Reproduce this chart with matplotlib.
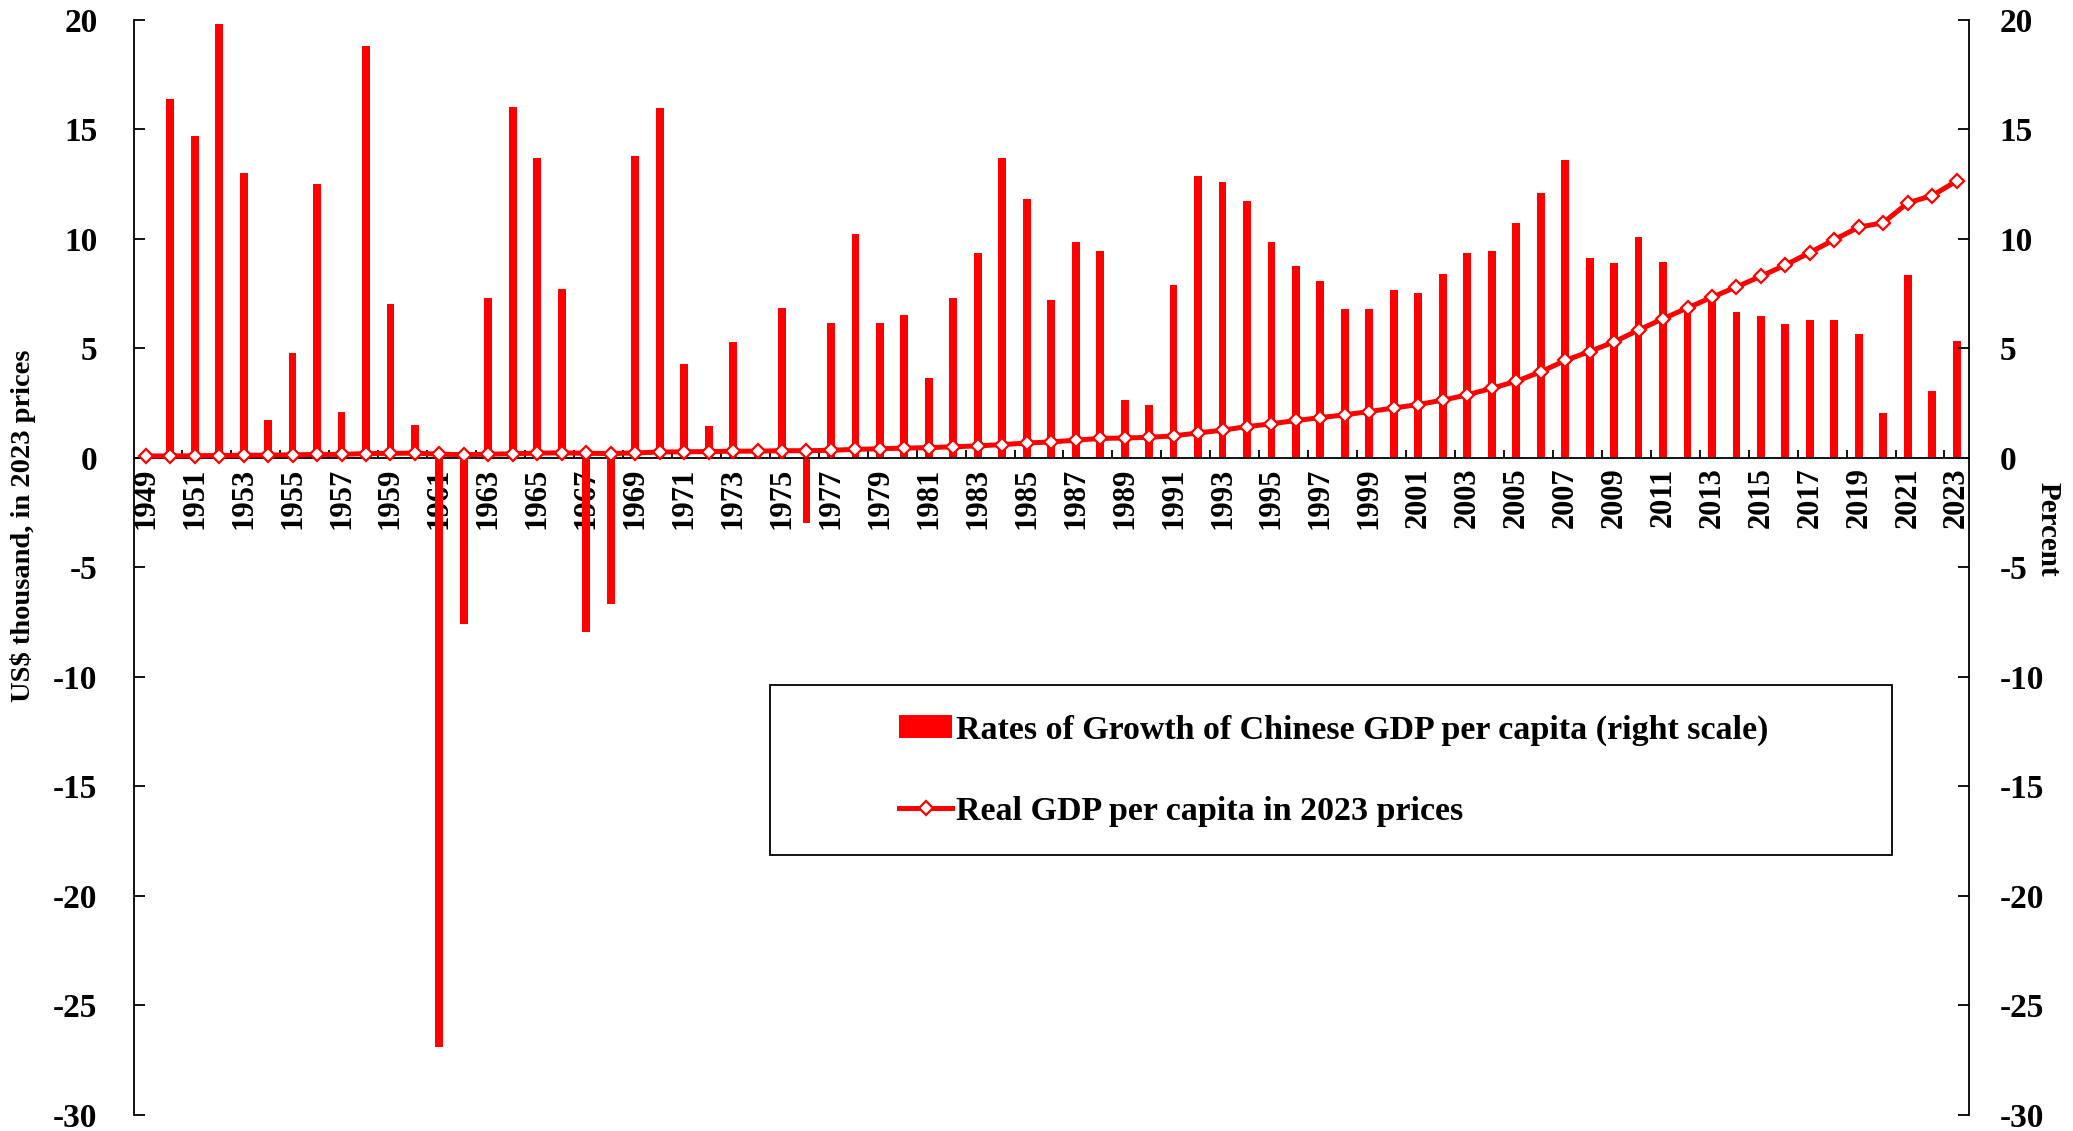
import matplotlib.pyplot as plt
import numpy as np
from matplotlib.patches import Rectangle

plt.rcParams["font.family"] = ["Liberation Serif", "DejaVu Serif"]
plt.rcParams["font.weight"] = "bold"

years = list(range(1949, 2024))

# growth of GDP per capita, percent (right scale); 1949 has no bar
growth = [
    np.nan, 16.4, 14.7, 19.8, 13.0, 1.73, 4.8, 12.5, 2.1, 18.8,
    7.0, 1.5, -26.9, -7.6, 7.3, 16.0, 13.7, 7.7, -7.95, -6.7,
    13.8, 15.95, 4.28, 1.45, 5.3, 0.3, 6.86, -2.96, 6.16, 10.2,
    6.16, 6.5, 3.66, 7.3, 9.34, 13.7, 11.8, 7.2, 9.86, 9.45,
    2.63, 2.4, 7.89, 12.88, 12.6, 11.72, 9.83, 8.75, 8.08, 6.81,
    6.81, 7.67, 7.54, 8.39, 9.34, 9.45, 10.74, 12.11, 13.6, 9.14,
    8.87, 10.07, 8.93, 6.9, 7.2, 6.66, 6.47, 6.11, 6.29, 6.29,
    5.63, 2.04, 8.36, 3.04, 5.34,
]

# real GDP per capita, US$ thousand in 2023 prices (left scale)
gdp_pc = [
    0.08, 0.08, 0.09, 0.10, 0.11, 0.12, 0.13, 0.15, 0.15, 0.19,
    0.20, 0.21, 0.16, 0.14, 0.16, 0.18, 0.21, 0.22, 0.20, 0.19,
    0.22, 0.26, 0.27, 0.28, 0.30, 0.30, 0.32, 0.32, 0.34, 0.38,
    0.41, 0.44, 0.46, 0.50, 0.54, 0.60, 0.67, 0.72, 0.80, 0.88,
    0.90, 0.93, 1.00, 1.13, 1.26, 1.42, 1.55, 1.70, 1.83, 1.96,
    2.11, 2.27, 2.43, 2.63, 2.87, 3.17, 3.49, 3.92, 4.44, 4.85,
    5.29, 5.83, 6.35, 6.84, 7.33, 7.80, 8.29, 8.80, 9.37, 9.96,
    10.53, 10.73, 11.64, 11.97, 12.64,
]

y_ticks = [20, 15, 10, 5, 0, -5, -10, -15, -20, -25, -30]

RED = "#FF0000"
x = np.arange(len(years))

fig = plt.figure(figsize=(20.73, 11.31), dpi=100)
ax = fig.add_axes([0.0644, 0.0145, 0.8854, 0.968])

bars = ax.bar(x, growth, width=0.32, color=RED, zorder=2,
              label="Rates of Growth of Chinese GDP per capita (right scale)")
line, = ax.plot(x, gdp_pc, color=RED, lw=3.6, marker="D", markersize=7,
                markerfacecolor="white", markeredgecolor=RED, markeredgewidth=1.6,
                zorder=4, clip_on=False, label="Real GDP per capita in 2023 prices")

ax.set_xlim(-0.5, len(years) - 0.5)
ax.set_ylim(-30, 20)
ax.set_axisbelow(True)

for s in ["top", "right"]:
    ax.spines[s].set_visible(False)
ax.spines["bottom"].set_position(("data", 0))
ax.spines["bottom"].set_linewidth(1.3)
ax.spines["left"].set_linewidth(1.3)

ax.set_yticks(y_ticks)
ax.set_yticklabels([str(v) for v in y_ticks], fontsize=24, fontweight="bold")
ax.tick_params(axis="y", direction="in", length=8, width=1.3, pad=26)

ax.set_xticks(x[::2])
ax.set_xticklabels([str(y) for y in years[::2]], rotation=90, fontsize=22,
                   fontweight="bold", va="top")
ax.set_xticks(x[1::2] + 0.5, minor=True)
ax.tick_params(axis="x", which="major", length=0, pad=7)
ax.tick_params(axis="x", which="minor", direction="in", length=6, width=1.3)

ax2 = ax.twinx()
ax2.set_position(ax.get_position())
ax2.set_ylim(-30, 20)
for s in ["top", "left", "bottom"]:
    ax2.spines[s].set_visible(False)
ax2.spines["right"].set_linewidth(1.3)
ax2.set_yticks(y_ticks)
ax2.set_yticklabels([str(v) for v in y_ticks], fontsize=24, fontweight="bold")
ax2.tick_params(axis="y", direction="in", length=8, width=1.3, pad=22)

fig.text(0.011, 0.535, "US$ thousand, in 2023 prices", rotation=90,
         ha="center", va="center", fontsize=20.5, fontweight="bold")
fig.text(0.988, 0.532, "Percent", rotation=270, ha="center", va="center",
         fontsize=21, fontweight="bold")

# legend box
ax.add_patch(Rectangle((0.347, 0.2367), 0.611, 0.156, transform=ax.transAxes,
                       facecolor="white", edgecolor="black", lw=1.3, zorder=5))
leg = ax.legend(handles=[bars, line], loc="upper left",
                bbox_to_anchor=(0.408, 0.381), frameon=False,
                fontsize=24.5, handlelength=1.55, handletextpad=0.12,
                labelspacing=1.47, borderpad=0)
leg.set_zorder(6)
for t in leg.get_texts():
    t.set_fontweight("bold")

fig.savefig("out.png", dpi=100)
